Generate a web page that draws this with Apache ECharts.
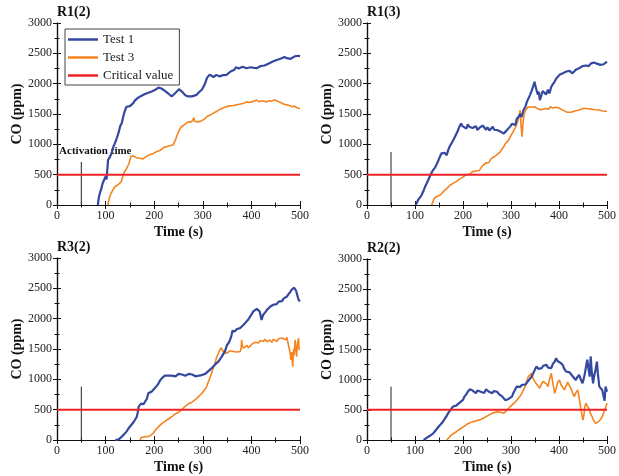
<!DOCTYPE html>
<html><head><meta charset="utf-8">
<script src="https://cdn.jsdelivr.net/npm/echarts@6/dist/echarts.min.js"></script>
<style>html,body{margin:0;padding:0;background:#fff}#c{width:619px;height:476px}</style>
</head><body><div id="c"></div>
<script>
const panelTitles = ['R1(2)', 'R1(3)', 'R3(2)', 'R2(2)'];
const seriesNames = ['Test 1', 'Test 3', 'Critical value'];
const criticalValue = 500;
const activationTime = 50;
const activationTop = [710, 875, 880, 885];
const activationLabel = 'Activation time';

const r12_test1 = [[84,0],[86,120],[88,190],[91,260],[93,330],[95,380],[97,350],[100,470],[102,420],[105,740],[108,780],[112,850],[116,960],[119,1015],[123,1100],[127,1200],[130,1300],[133,1345],[137,1480],[140,1560],[143,1620],[146,1640],[150,1630],[153,1650],[157,1680],[160,1720],[163,1730],[167,1770],[170,1760],[174,1800],[177,1790],[181,1830],[185,1810],[188,1850],[191,1840],[195,1870],[198,1880],[202,1900],[205,1925],[209,1935],[212,1910],[215,1920],[218,1900],[222,1880],[226,1860],[230,1830],[233,1800],[236,1790],[240,1810],[244,1850],[248,1880],[251,1910],[253,1900],[257,1870],[260,1840],[264,1810],[267,1790],[270,1790],[274,1770],[278,1790],[282,1780],[287,1815],[291,1850],[295,1880],[298,1900],[301,1925],[304,1990],[307,2060],[309,2100],[311,2120],[314,2150],[318,2130],[322,2110],[325,2140],[328,2145],[331,2170],[334,2120],[338,2110],[342,2140],[346,2150],[349,2145],[353,2170],[357,2200],[361,2190],[365,2230],[368,2270],[370,2280],[374,2250],[378,2270],[382,2280],[386,2260],[390,2255],[394,2280],[398,2270],[402,2240],[406,2260],[411,2255],[415,2270],[419,2290],[423,2270],[427,2300],[431,2310],[435,2330],[439,2340],[443,2360],[447,2350],[452,2390],[456,2380],[460,2410],[464,2400],[468,2440],[473,2420],[477,2430],[481,2410],[485,2440],[489,2450],[493,2430],[497,2460],[500,2450]];
const r12_test3 = [[105,0],[106,60],[108,120],[110,170],[112,190],[115,250],[119,300],[122,310],[125,330],[129,350],[132,380],[135,460],[137,520],[140,560],[143,600],[146,630],[148,680],[150,740],[152,800],[154,820],[157,810],[160,790],[163,780],[166,790],[170,770],[174,780],[177,760],[181,790],[184,800],[188,820],[191,830],[195,840],[198,850],[202,870],[205,880],[209,890],[212,900],[216,930],[220,950],[223,940],[225,960],[229,950],[233,980],[236,970],[239,990],[242,1040],[245,1100],[247,1150],[249,1180],[252,1240],[254,1220],[256,1290],[260,1310],[263,1330],[267,1360],[270,1370],[274,1380],[277,1370],[280,1390],[282,1440],[283,1380],[284,1400],[287,1390],[290,1370],[294,1370],[298,1390],[301,1400],[304,1420],[308,1455],[311,1440],[314,1480],[318,1490],[321,1510],[325,1520],[328,1540],[332,1560],[336,1580],[340,1590],[345,1610],[349,1620],[353,1630],[357,1620],[362,1640],[366,1650],[370,1650],[375,1660],[380,1670],[385,1680],[390,1700],[395,1690],[400,1700],[405,1710],[411,1730],[416,1700],[421,1720],[426,1710],[431,1700],[436,1720],[441,1710],[447,1730],[452,1720],[457,1700],[462,1680],[467,1660],[473,1650],[478,1640],[484,1620],[489,1630],[494,1600],[500,1590]];

const r13_test1 = [[101,0],[104,40],[107,90],[111,130],[114,170],[118,240],[121,300],[124,350],[128,420],[132,490],[135,540],[138,580],[142,620],[145,650],[148,720],[151,780],[155,850],[158,880],[162,860],[166,820],[169,900],[172,960],[176,1015],[179,1060],[183,1120],[186,1150],[189,1220],[192,1280],[196,1345],[199,1300],[203,1270],[207,1260],[210,1330],[213,1290],[217,1320],[220,1270],[224,1240],[227,1300],[230,1235],[234,1270],[237,1250],[241,1310],[244,1290],[248,1240],[251,1280],[255,1230],[258,1260],[262,1290],[265,1240],[268,1270],[271,1235],[275,1260],[278,1210],[282,1190],[285,1180],[288,1200],[291,1230],[295,1260],[299,1300],[302,1340],[306,1370],[309,1320],[312,1420],[316,1455],[319,1500],[322,1450],[326,1565],[330,1620],[333,1700],[336,1730],[340,1820],[343,1880],[346,1950],[349,2030],[351,1960],[353,1900],[356,1820],[358,1870],[360,1730],[363,1800],[366,1880],[370,1900],[373,1820],[377,1900],[380,1840],[384,1950],[387,1990],[391,2035],[394,2080],[397,2110],[401,2145],[405,2130],[408,2170],[412,2190],[415,2200],[419,2170],[422,2210],[425,2180],[428,2170],[432,2200],[435,2230],[439,2240],[442,2255],[446,2270],[449,2290],[452,2280],[456,2300],[459,2310],[462,2290],[466,2330],[469,2320],[473,2350],[476,2365],[479,2330],[482,2350],[486,2310],[489,2340],[493,2320],[496,2350],[500,2365]];
const r13_test3 = [[135,0],[137,50],[140,110],[142,130],[145,140],[149,150],[152,160],[155,190],[159,220],[162,240],[166,270],[169,300],[173,325],[176,350],[180,360],[183,380],[187,390],[190,410],[193,430],[196,435],[200,460],[203,480],[207,500],[210,520],[214,510],[217,530],[220,550],[224,545],[227,560],[230,580],[234,570],[237,600],[240,640],[244,650],[247,690],[251,710],[254,700],[258,760],[261,780],[265,795],[268,770],[271,830],[275,850],[278,880],[281,920],[285,960],[288,1010],[291,990],[295,1070],[298,1120],[301,1150],[304,1200],[306,1235],[309,1280],[312,1330],[314,1380],[316,1400],[318,1500],[319,1565],[321,1300],[323,1125],[325,1350],[327,1480],[329,1540],[332,1580],[334,1560],[336,1620],[339,1590],[342,1610],[346,1580],[349,1620],[353,1595],[357,1580],[360,1610],[363,1570],[367,1565],[371,1590],[375,1600],[379,1580],[382,1620],[384,1650],[387,1600],[391,1590],[394,1610],[398,1580],[401,1595],[405,1570],[409,1560],[413,1540],[417,1530],[421,1510],[425,1530],[429,1540],[433,1550],[437,1560],[442,1565],[446,1580],[450,1590],[454,1600],[458,1590],[462,1595],[466,1580],[470,1590],[474,1570],[478,1580],[483,1565],[487,1560],[491,1550],[496,1545],[500,1540]];

const r32_test1 = [[120,0],[124,20],[127,10],[130,30],[134,60],[137,80],[140,110],[144,150],[147,190],[151,220],[154,260],[158,300],[161,330],[164,380],[166,450],[168,550],[171,580],[173,600],[175,605],[178,590],[182,605],[185,680],[188,770],[191,790],[195,800],[199,825],[202,860],[206,900],[209,935],[212,980],[216,1020],[219,1045],[222,1060],[226,1040],[229,1060],[233,1045],[236,1060],[240,1070],[244,1050],[247,1075],[250,1090],[254,1070],[257,1080],[260,1075],[264,1060],[267,1080],[271,1090],[274,1100],[278,1080],[281,1060],[285,1050],[288,1045],[292,1060],[295,1050],[298,1070],[301,1075],[305,1090],[308,1110],[312,1140],[315,1155],[319,1190],[322,1220],[326,1250],[329,1265],[333,1300],[336,1340],[339,1375],[342,1400],[346,1470],[349,1550],[353,1600],[356,1650],[359,1720],[361,1800],[363,1815],[366,1790],[370,1830],[373,1810],[377,1845],[380,1870],[384,1900],[387,1930],[390,1955],[394,1990],[397,2030],[401,2080],[404,2120],[407,2150],[411,2160],[414,2175],[417,2120],[419,2050],[421,1980],[424,2060],[428,2100],[432,2145],[435,2170],[439,2200],[442,2190],[445,2230],[449,2250],[452,2240],[456,2280],[459,2310],[463,2290],[466,2330],[470,2350],[473,2365],[476,2400],[480,2440],[483,2480],[486,2470],[488,2510],[490,2500],[492,2460],[494,2400],[496,2340],[498,2300],[500,2285]];
const r32_test3 = [[171,0],[173,40],[175,55],[178,50],[181,60],[185,55],[188,60],[192,70],[195,80],[199,120],[202,160],[205,190],[209,220],[212,250],[216,275],[219,290],[223,310],[226,330],[230,350],[233,370],[237,390],[240,415],[243,430],[247,440],[250,455],[253,470],[257,500],[260,530],[264,560],[267,580],[271,600],[274,610],[277,620],[281,635],[285,670],[288,700],[292,720],[295,745],[299,780],[302,810],[305,840],[308,880],[311,950],[315,1030],[318,1100],[321,1180],[325,1265],[328,1350],[332,1430],[335,1480],[337,1520],[339,1540],[341,1480],[344,1440],[347,1460],[349,1430],[353,1450],[356,1470],[360,1440],[363,1460],[367,1480],[370,1450],[374,1470],[377,1460],[379,1520],[380,1650],[381,1560],[384,1515],[388,1530],[391,1560],[394,1520],[397,1540],[401,1580],[404,1600],[408,1610],[411,1625],[415,1600],[418,1640],[421,1620],[425,1625],[428,1660],[432,1620],[435,1640],[438,1650],[442,1610],[445,1660],[449,1630],[452,1625],[456,1670],[459,1640],[463,1680],[466,1680],[470,1650],[473,1690],[476,1680],[478,1500],[480,1420],[481,1320],[483,1450],[485,1210],[487,1500],[488,1400],[490,1650],[491,1550],[493,1375],[495,1600],[497,1680],[498,1500],[500,1485]];

const r22_test1 = [[118,0],[121,20],[125,40],[128,55],[131,70],[135,90],[138,110],[142,150],[145,180],[149,220],[152,250],[156,280],[159,305],[162,350],[166,400],[169,445],[172,470],[176,520],[179,555],[183,560],[186,570],[190,580],[193,620],[197,640],[200,665],[203,720],[207,760],[210,800],[214,840],[217,860],[220,820],[224,790],[227,775],[230,820],[234,790],[237,800],[241,830],[244,780],[248,840],[251,860],[254,800],[258,820],[261,775],[264,810],[268,790],[271,800],[275,760],[278,740],[282,720],[285,700],[288,660],[292,635],[295,680],[298,700],[302,720],[305,780],[309,840],[312,885],[316,900],[319,880],[323,915],[326,900],[330,920],[333,940],[336,980],[340,1010],[343,1050],[346,1100],[350,1170],[353,1220],[357,1180],[360,1200],[364,1190],[367,1230],[371,1210],[374,1245],[377,1200],[381,1220],[384,1190],[387,1260],[391,1300],[394,1355],[397,1310],[401,1330],[404,1275],[408,1240],[411,1180],[415,1135],[418,1160],[422,1120],[425,1105],[428,1060],[432,1040],[435,995],[438,1040],[442,1080],[445,1010],[449,940],[451,1000],[454,1105],[457,1250],[459,1330],[461,1200],[464,1050],[466,1385],[468,1150],[471,940],[473,1050],[476,1160],[479,1300],[481,1100],[484,885],[487,900],[490,830],[493,720],[495,650],[497,885],[500,800]];
const r22_test3 = [[166,0],[169,30],[172,50],[176,85],[179,100],[183,120],[186,140],[190,160],[193,180],[196,195],[200,210],[203,230],[207,250],[210,270],[214,285],[217,295],[220,305],[224,310],[227,315],[231,325],[234,330],[238,345],[241,360],[244,370],[248,385],[251,400],[254,420],[258,430],[261,445],[265,455],[268,465],[271,470],[275,470],[278,460],[282,450],[285,445],[288,470],[292,500],[295,525],[298,550],[302,580],[306,610],[309,640],[312,660],[316,690],[319,730],[323,780],[326,830],[330,900],[333,980],[336,1050],[340,1080],[343,1105],[346,1020],[350,960],[353,940],[356,900],[360,860],[363,920],[367,970],[370,995],[374,930],[377,885],[380,1000],[384,1105],[387,950],[391,775],[394,850],[397,950],[401,995],[404,920],[408,870],[411,830],[415,900],[418,960],[421,940],[425,850],[428,790],[432,720],[435,780],[439,830],[442,700],[445,555],[447,450],[450,330],[452,420],[454,560],[456,610],[459,560],[462,525],[465,450],[469,385],[472,330],[476,275],[479,300],[483,305],[486,280],[490,385],[493,450],[495,500],[498,560],[500,610]];

const test1Data = [r12_test1, r13_test1, r32_test1, r22_test1];
const test3Data = [r12_test3, r13_test3, r32_test3, r22_test3];

const FONT = 'Liberation Serif';
const BLUE = '#34499e', ORANGE = '#f5841f', RED = '#ec2227';
const grids = [
  {left: 57, top: 23, width: 243, height: 182},
  {left: 367, top: 23, width: 245, height: 182},
  {left: 57, top: 258, width: 243, height: 182},
  {left: 367, top: 259, width: 245, height: 181}
];

const axisLineStyle = {lineStyle: {color: '#111', width: 1.2}};
const tickStyle = {show: true, inside: true, length: 4, lineStyle: {color: '#111', width: 1}};
const minorStyle = {show: true, splitNumber: 2, length: 2.5, lineStyle: {color: '#111', width: 1}};
const plain = v => String(v);

const xAxes = [], yAxes = [], series = [], titles = [];
grids.forEach((g, i) => {
  titles.push({text: panelTitles[i], left: g.left, top: g.top - 18, padding: 0,
    textStyle: {fontFamily: FONT, fontWeight: 'bold', fontSize: 14, color: '#111'}});
  xAxes.push({gridIndex: i, type: 'value', min: 0, max: 500, interval: 100, position: 'bottom',
    name: 'Time (s)', nameLocation: 'middle', nameGap: 20,
    nameTextStyle: {fontFamily: FONT, fontWeight: 'bold', fontSize: 14, color: '#111'},
    axisLine: axisLineStyle, axisTick: tickStyle, minorTick: minorStyle, splitLine: {show: false},
    axisLabel: {fontFamily: FONT, fontSize: 12, color: '#222', margin: 5, formatter: plain}});
  xAxes.push({gridIndex: i, type: 'value', min: 0, max: 500, interval: 100, position: 'top',
    axisLine: axisLineStyle, axisTick: tickStyle, minorTick: minorStyle, splitLine: {show: false},
    axisLabel: {show: false}});
  yAxes.push({gridIndex: i, type: 'value', min: 0, max: 3000, interval: 500, position: 'left',
    name: 'CO (ppm)', nameLocation: 'middle', nameGap: 30, nameRotate: 90,
    nameTextStyle: {fontFamily: FONT, fontWeight: 'bold', fontSize: 14, color: '#111'},
    axisLine: {show: true, ...axisLineStyle}, axisTick: tickStyle, minorTick: minorStyle, splitLine: {show: false},
    axisLabel: {fontFamily: FONT, fontSize: 12, color: '#222', margin: 5, formatter: plain}});
  yAxes.push({gridIndex: i, type: 'value', min: 0, max: 3000, interval: 500, position: 'right',
    axisLine: {show: true, ...axisLineStyle}, axisTick: tickStyle, minorTick: minorStyle, splitLine: {show: false},
    axisLabel: {show: false}});

  const xi = 2 * i, yi = 2 * i;
  series.push({name: seriesNames[0], type: 'line', xAxisIndex: xi, yAxisIndex: yi, data: test1Data[i],
    showSymbol: false, lineStyle: {color: BLUE, width: 2.2}, itemStyle: {color: BLUE}, z: 3, animation: false});
  series.push({name: seriesNames[1], type: 'line', xAxisIndex: xi, yAxisIndex: yi, data: test3Data[i],
    showSymbol: false, lineStyle: {color: ORANGE, width: 1.6}, itemStyle: {color: ORANGE}, z: 2, animation: false});
  series.push({name: seriesNames[2], type: 'line', xAxisIndex: xi, yAxisIndex: yi,
    data: [[0, criticalValue], [500, criticalValue]],
    showSymbol: false, lineStyle: {color: RED, width: 2}, itemStyle: {color: RED}, z: 4, animation: false});
  const topPt = {value: [activationTime, activationTop[i]]};
  if (i === 0) {
    topPt.label = {show: true, formatter: activationLabel, position: 'top', offset: [14, 0],
      fontFamily: FONT, fontWeight: 'bold', fontSize: 11, color: '#111'};
  }
  series.push({name: 'activation', type: 'line', xAxisIndex: xi, yAxisIndex: yi,
    data: [[activationTime, 0], topPt], symbol: 'circle', symbolSize: 1, showSymbol: true,
    itemStyle: {color: 'rgba(0,0,0,0)'},
    lineStyle: {color: '#222', width: 1}, z: 1, animation: false, silent: true});
});

const chart = echarts.init(document.getElementById('c'), null, {renderer: 'canvas'});
chart.setOption({
  animation: false,
  backgroundColor: '#fff',
  title: titles,
  grid: grids,
  xAxis: xAxes,
  yAxis: yAxes,
  legend: {
    data: [
      {name: seriesNames[0], icon: 'rect', itemStyle: {color: BLUE}},
      {name: seriesNames[1], icon: 'rect', itemStyle: {color: ORANGE}},
      {name: seriesNames[2], icon: 'rect', itemStyle: {color: RED}}
    ],
    orient: 'vertical', left: 65, top: 29, itemWidth: 30, itemHeight: 2.5, itemGap: 5,
    padding: [4, 6, 3, 3], borderColor: '#444', borderWidth: 1, backgroundColor: '#fff',
    textStyle: {fontFamily: FONT, fontSize: 13, color: '#222'}
  },
  series: series
});
</script></body></html>
